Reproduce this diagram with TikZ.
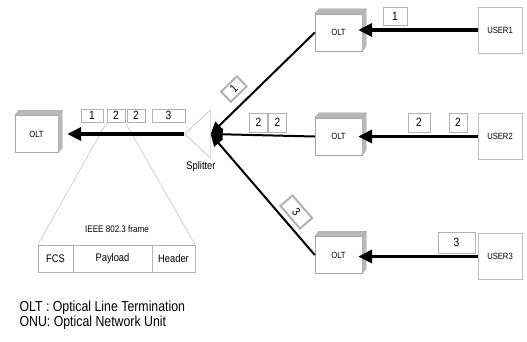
\documentclass[tikz,border=0pt]{standalone}
\usepackage{fontspec}
\setmainfont[FakeStretch=0.85]{Liberation Sans}
\usetikzlibrary{arrows.meta,shapes.geometric}

\begin{document}
\begin{tikzpicture}[
    x=1pt, y=-1pt,
    olt/.style = { draw=gray!70, fill=white, minimum width=47pt, minimum height=37pt, inner sep=0pt, font=\fontsize{9}{9}\selectfont },
    user/.style = { draw=gray!50, minimum width=44pt, minimum height=46pt, inner sep=0pt, font=\fontsize{9}{9}\selectfont },
    pkt/.style = { draw=gray!60, fill=white, minimum width=18pt, minimum height=13pt, inner sep=0pt, font=\fontsize{12}{12}\selectfont },
    field/.style = { draw=gray!60, minimum height=27pt, inner sep=0pt, font=\fontsize{11}{11}\selectfont },
    splitter/.style = { draw=gray!70, shape=isosceles triangle, shape border rotate=180, isosceles triangle stretches, minimum width=48pt, minimum height=26pt, inner sep=0pt },
    feed/.style = { line width=3.5pt, -{Triangle[length=14pt,width=13pt]} },
    branch/.style = { line width=2pt, -{Triangle[length=12pt,width=11pt]} },
    shade/.style = { fill=gray!55, draw=gray!70 }
    ]
\useasboundingbox (0,0) rectangle (527,341);
\node[olt, minimum width=43pt] (oltL) at (36.5,134) {OLT};
\node[olt] (oltA) at (338.5,32.5) {OLT};
\node[olt] (oltB) at (338.5,136.5) {OLT};
\node[olt] (oltC) at (338.5,255) {OLT};
\node[user] (user1) at (500,30) {USER1};
\node[user] (user2) at (500,136.5) {USER2};
\node[user] (user3) at (500,256.5) {USER3};
\node[splitter] (split) at (200,134) {};
\node[font=\fontsize{11}{11}\selectfont] (splitlbl) at (201,167) {Splitter};
%
\foreach \Box in {oltL,oltA,oltB,oltC} {
    \draw[shade] (\Box.north west) -- ++(4,-5) -- ([shift={(4,-5)}]\Box.north east) -- (\Box.north east) -- cycle;
    \draw[shade] (\Box.north east) -- ++(4,-5) -- ([shift={(4,-5)}]\Box.south east) -- (\Box.south east) -- cycle;
}
%
\node[pkt, minimum width=22pt] (p1) at (92,115.5) {1};
\node[pkt] (p2a) at (116,115.5) {2};
\node[pkt] (p2b) at (136,115.5) {2};
\node[pkt, minimum width=33pt] (p3) at (168.5,115.5) {3};
\node[pkt, minimum width=24pt, minimum height=18pt] (q1) at (395,16) {1};
\node[pkt, minimum width=22pt, minimum height=19pt] (q2a) at (419,122.5) {2};
\node[pkt, minimum height=19pt] (q2b) at (458,122.5) {2};
\node[pkt, minimum height=19pt] (s2a) at (258.5,122.5) {2};
\node[pkt, minimum height=19pt] (s2b) at (277.5,122.5) {2};
\node[pkt, minimum width=37pt, minimum height=21pt] (q3) at (456.5,242.5) {3};
%
\node[font=\fontsize{9.5}{9.5}\selectfont] (cap) at (117,229) {IEEE 802.3 frame};
\node[field, minimum width=35pt] (fcs) at (55.5,258.5) {FCS};
\node[field, minimum width=79pt] (pay) at (112.5,258.5) {Payload};
\node[field, minimum width=43pt] (hdr) at (173.5,258.5) {Header};
\foreach \Source/\Target in {%
        p2a.south west/fcs.north west,
        p2a.south east/hdr.north east%
    }
\draw[gray!60] (\Source) to (\Target);
%
\foreach \Source/\Target in {user1/oltA, user2/oltB, user3/oltC}
\draw[feed, shorten >=-4pt] (\Source.west) to (\Source.west -| \Target.east);
\draw[feed, shorten >=9pt] (split.apex) to (split.apex -| oltL.east);
\draw[branch] (oltA.west) to node[pkt, sloped, above=8pt, pos=0.67, minimum width=22pt, minimum height=14pt] (r1) {1} (split.lower side);
\draw[branch] (oltB.west) to (split.lower side);
\draw[branch] (oltC.west) to node[pkt, sloped, above=5pt, pos=0.28, minimum width=30pt, minimum height=16pt] (r3) {3} (split.lower side);
%
\node[anchor=west, font=\fontsize{14.5}{14.5}\selectfont] (legA) at (16,308) {OLT : Optical Line Termination};
\node[anchor=west, font=\fontsize{14.5}{14.5}\selectfont] (legB) at (16,323) {ONU: Optical Network Unit};
\end{tikzpicture}
\end{document}
